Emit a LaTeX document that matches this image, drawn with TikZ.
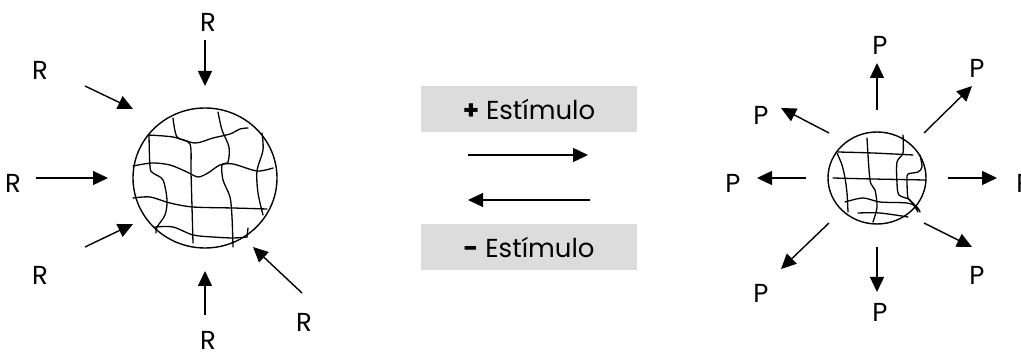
\documentclass[tikz,border=0pt]{standalone}
\usepackage{fontspec}
\setmainfont{Poppins}
\usetikzlibrary{arrows.meta}
\definecolor{boxgray}{HTML}{DCDCDC}
\tikzset{
  lbl/.style={font=\fontsize{26}{30}\selectfont, inner sep=0pt, anchor=center},
  ray/.style={line width=1.4pt, -{Triangle[length=15pt,width=14pt]}},
  rim/.style={line width=1.4pt},
  fibre/.style={line width=1.3pt, line join=round, line cap=round},
  band/.style={fill=boxgray, draw=none, minimum width=216pt, minimum height=46pt,
    inner sep=0pt, font=\fontsize{26}{30}\selectfont},
}
\begin{document}
\begin{tikzpicture}[x=1pt,y=-1pt]
\useasboundingbox (0,0) rectangle (1021,352);

% ---------- left sphere ----------
\draw[rim] (205,178) ellipse [x radius=72, y radius=70];
\node (Lc) at (205,178) {};
% fibre mesh
\draw[fibre] plot[smooth,tension=0.5] coordinates {(148,135) (173,137) (195,143) (213,138) (230,134) (240,129) (248,128)};
\draw[fibre] plot[smooth,tension=0.5] coordinates {(133,166) (152,163) (170,165) (187,172) (198,177) (208,173) (220,165) (233,164) (257,171) (273,168)};
\draw[fibre] plot[smooth,tension=0.5] coordinates {(133,198) (150,197) (170,203) (193,207) (233,208) (267,209)};
\draw[fibre] plot[smooth,tension=0.5] coordinates {(155,227) (173,227) (193,235) (213,237) (233,238) (247,237)};
\draw[fibre] (247,237) -- (248,228);
\draw[fibre] plot[smooth,tension=0.5] coordinates {(149,135) (150,167) (153,173) (163,180) (167,200) (165,215) (157,227) (156,233)};
\draw[fibre] plot[smooth,tension=0.5] coordinates {(173,118) (177,137) (190,144) (191,173) (192,207) (193,243)};
\draw[fibre] plot[smooth,tension=0.5] coordinates {(218,112) (222,130) (229,147) (228,162) (222,165) (223,180) (230,197) (232,217) (233,247)};
\draw[fibre] plot[smooth,tension=0.5] coordinates {(262,133) (263,150) (257,171) (258,193) (263,215)};

% incoming R arrows
\node[lbl] (r1) at (208,22) {R};
\node[lbl] (r2) at (40,70) {R};
\node[lbl] (r3) at (13,183) {R};
\node[lbl] (r4) at (40,275) {R};
\node[lbl] (r5) at (208,340) {R};
\node[lbl] (r6) at (304,322) {R};
\coordinate (a1s) at (205,40);  \coordinate (a1e) at (205,86);
\coordinate (a2s) at (85,86);   \coordinate (a2e) at (133,109);
\coordinate (a3s) at (36,178);  \coordinate (a3e) at (108,178);
\coordinate (a4s) at (85,247);  \coordinate (a4e) at (133,224);
\coordinate (a5s) at (205,315); \coordinate (a5e) at (205,271);
\coordinate (a6s) at (302,293); \coordinate (a6e) at (253,247);
\foreach \i in {1,...,6} \draw[ray] (a\i s) -- (a\i e);

% ---------- stimulus switch ----------
\node[band] (plus) at (529,109) {\textbf{+} Estímulo};
\node[band] (minus) at (529,247) {\textbf{-} Estímulo};
\coordinate (fwdS) at (468,155); \coordinate (fwdE) at (588,155);
\coordinate (bwdS) at (590,200); \coordinate (bwdE) at (468,200);
\draw[ray] (fwdS) -- (fwdE);
\draw[ray] (bwdS) -- (bwdE);

% ---------- right sphere ----------
\draw[rim] (877,178) ellipse [x radius=49, y radius=46];
\node (Rc) at (877,178) {};
\draw[fibre] plot[smooth,tension=0.5] coordinates {(838,152) (873,153) (913,155)};
\draw[fibre] plot[smooth,tension=0.5] coordinates {(833,178) (873,179) (925,180)};
\draw[fibre] plot[smooth,tension=0.5] coordinates {(845,202) (863,198) (880,202) (907,203) (917,207) (920,212)};
\draw[fibre] plot[smooth,tension=0.5] coordinates {(858,213) (880,213) (908,217)};
\draw[fibre] plot[smooth,tension=0.5] coordinates {(837,153) (842,165) (845,178) (847,193) (848,212)};
\draw[fibre] plot[smooth,tension=0.5] coordinates {(867,138) (870,180) (875,190) (877,207) (873,222)};
\draw[fibre] plot[smooth,tension=0.5] coordinates {(903,135) (903,153) (897,162) (897,183) (899,195) (910,200) (918,212)};
\draw[fibre] plot[smooth,tension=0.5] coordinates {(920,155) (922,167) (918,172) (908,174) (907,180) (908,198) (913,203) (918,210)};

% outgoing P arrows
\node[lbl] (p1) at (880,45) {P};
\node[lbl] (p2) at (977,68) {P};
\node[lbl] (p3) at (1024,183) {P};
\node[lbl] (p4) at (977,275) {P};
\node[lbl] (p5) at (880,312) {P};
\node[lbl] (p6) at (761,293) {P};
\node[lbl] (p7) at (733,183) {P};
\node[lbl] (p8) at (761,115) {P};
\coordinate (b1s) at (877,110); \coordinate (b1e) at (877,63);
\coordinate (b2s) at (924,133); \coordinate (b2e) at (972,86);
\coordinate (b3s) at (948,178); \coordinate (b3e) at (997,178);
\coordinate (b4s) at (924,223); \coordinate (b4e) at (972,247);
\coordinate (b5s) at (877,247); \coordinate (b5e) at (877,292);
\coordinate (b6s) at (829,223); \coordinate (b6e) at (781,269);
\coordinate (b7s) at (806,178); \coordinate (b7e) at (757,178);
\coordinate (b8s) at (829,133); \coordinate (b8e) at (781,108);
\foreach \i in {1,...,8} \draw[ray] (b\i s) -- (b\i e);
\end{tikzpicture}
\end{document}
